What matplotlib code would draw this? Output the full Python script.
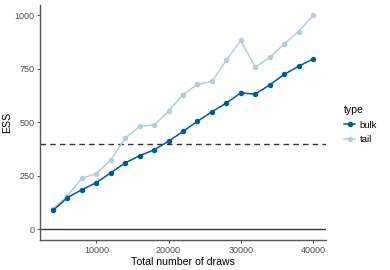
import matplotlib.pyplot as plt
import numpy as np

plt.rcParams['font.family'] = ['Liberation Sans', 'DejaVu Sans']

draws = [4000, 6000, 8000, 10000, 12000, 14000, 16000, 18000, 20000, 22000,
         24000, 26000, 28000, 30000, 32000, 34000, 36000, 38000, 40000]
bulk = [88, 148, 185, 218, 264, 310, 344, 371, 411, 457,
        504, 549, 589, 637, 631, 674, 723, 761, 795]
tail = [96, 155, 239, 260, 324, 425, 481, 487, 552, 629,
        677, 690, 789, 882, 757, 802, 865, 923, 998]

types = ['bulk', 'tail']
colors = {'bulk': '#005b96', 'tail': '#b3cde0'}

fig = plt.figure(figsize=(3.9, 2.7), dpi=100)
ax = fig.add_axes([40/390, 30/270, 286/390, 235/270])

ax.axhline(0, color='#333333', lw=1.0, zorder=1)
ax.axhline(400, color='#333333', lw=1.0, ls=(0, (4, 3)), zorder=1)

for t, vals in zip(types, [bulk, tail]):
    ax.plot(draws, vals, color=colors[t], lw=1.1, marker='o', ms=2.9,
            label=t, zorder=3 if t == 'bulk' else 2)

ax.set_xlim(2200, 41800)
ax.set_ylim(-49.75, 1047)
ax.set_xticks([10000, 20000, 30000, 40000])
ax.set_yticks([0, 250, 500, 750, 1000])

for s in ['top', 'right']:
    ax.spines[s].set_visible(False)
for s in ['left', 'bottom']:
    ax.spines[s].set_color('#555555')
    ax.spines[s].set_linewidth(1.0)
ax.tick_params(labelsize=6.5, colors='#4d4d4d', length=2.5, width=0.7, pad=1.5)

ax.set_xlabel('Total number of draws', fontsize=7.6, labelpad=1.5)
ax.set_ylabel('ESS', fontsize=7.6)
ax.yaxis.set_label_coords(-0.098, 0.5)

leg = ax.legend(title='type', loc='upper left', bbox_to_anchor=(1.03, 0.615),
                frameon=False, fontsize=6.8, title_fontsize=7.6,
                handlelength=1.2, handletextpad=0.45, labelspacing=0.6,
                borderaxespad=0.6)
leg._legend_box.align = 'left'

fig.savefig('out.png', dpi=100)
